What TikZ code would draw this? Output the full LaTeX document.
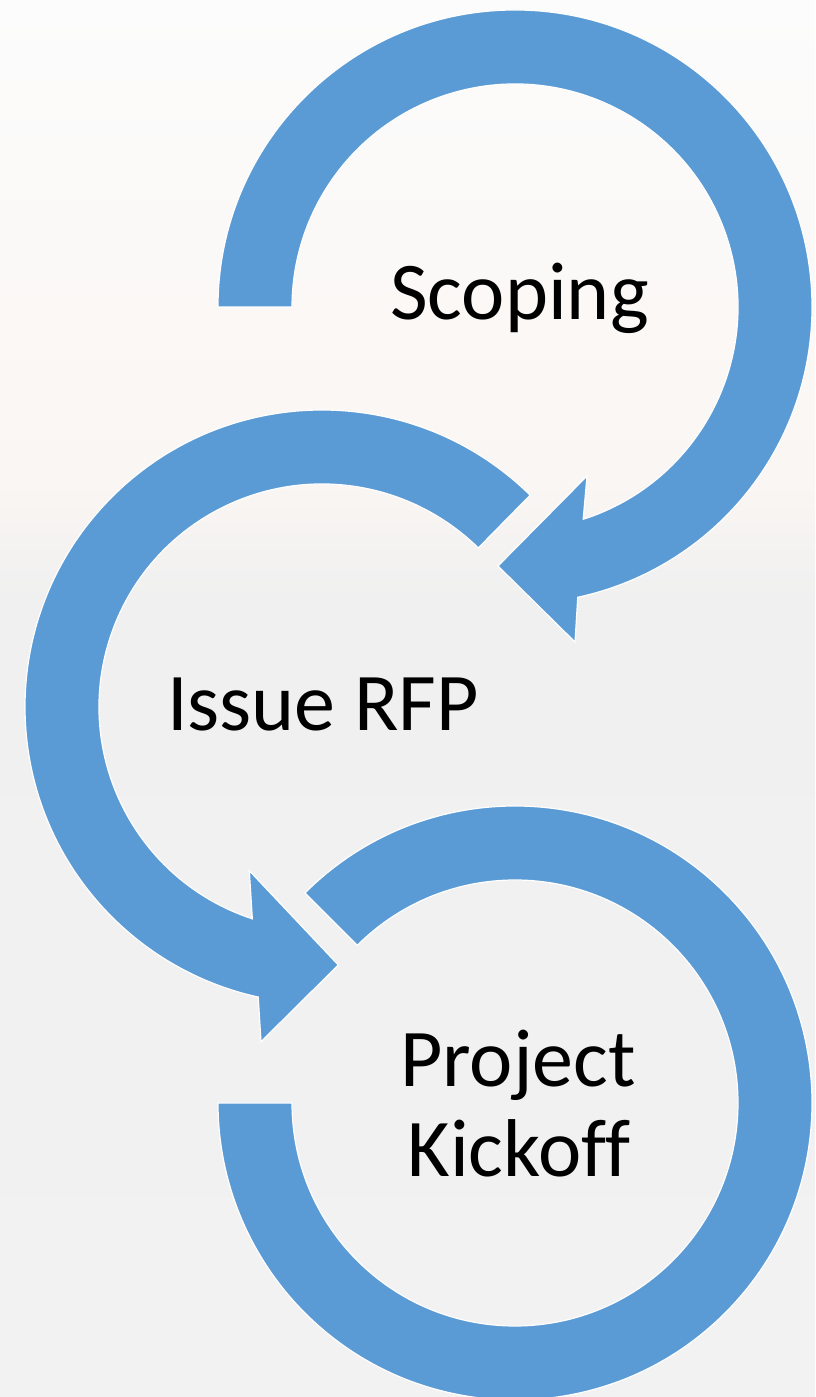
\documentclass[tikz,border=0pt]{standalone}
\usepackage{fontspec}
\setmainfont[Ligatures=NoCommon]{Carlito}
\usetikzlibrary{calc}
\definecolor{arrowblue}{HTML}{5B9BD5}
\definecolor{bgtopA}{HTML}{FCFCFC}
\definecolor{bgtopB}{HTML}{FAF6F3}
\definecolor{bgbotA}{HTML}{F0F0F0}
\definecolor{bgbotB}{HTML}{F2F2F2}
\begin{document}
\begin{tikzpicture}[x=1pt,y=1pt,
  band/.style={fill=arrowblue, draw=white, line width=1.2pt, line join=miter},
  phasetext/.style={font=\fontsize{82}{90}\selectfont, text=black, inner sep=0pt, anchor=base}]
\useasboundingbox (0,0) rectangle (815,1397);
\clip (0,0) rectangle (815,1397);
% background
\shade[top color=bgtopA, bottom color=bgtopB] (0,917) rectangle (815,1397);
\shade[top color=bgtopB, bottom color=bgbotA] (0,797) rectangle (815,917.5);
\shade[top color=bgbotA, bottom color=bgbotB] (0,0) rectangle (815,797.5);
% centres
\coordinate (c1) at (515,1090);
\coordinate (c2) at (322,690);
\coordinate (c3) at (515,294);
% arrow 1 (Scoping)
\filldraw[band] ($(c1)+(180:297)$) arc[start angle=180,end angle=-77.8,radius=297]
  -- (575,755) -- (498,831) -- (587,921)
  -- ($(c1)+(-72.2:223)$) arc[start angle=-72.2,end angle=180,radius=223] -- cycle;
% arrow 2 (Issue RFP)
\filldraw[band] ($(c2)+(45.5:297)$) arc[start angle=45.5,end angle=257.6,radius=297]
  -- (261,355.3) -- (338.3,432) -- (249.3,526.3)
  -- ($(c2)+(251.8:223)$) arc[start angle=251.8,end angle=45.5,radius=223] -- cycle;
% arc 3 (Project Kickoff)
\filldraw[band] ($(c3)+(135:297)$) arc[start angle=135,end angle=-180,radius=297]
  -- ($(c3)+(180:223)$) arc[start angle=-180,end angle=135,radius=223] -- cycle;
% texts
\node[phasetext] (scoping) at (519.5,1077) {Scoping};
\node[phasetext] (rfp) at (323,666.3) {Issue RFP};
\node[phasetext] (proj) at (518,310.3) {Project};
\node[phasetext] (kick) at (519,220.3) {Kickoff};
\end{tikzpicture}
\end{document}
